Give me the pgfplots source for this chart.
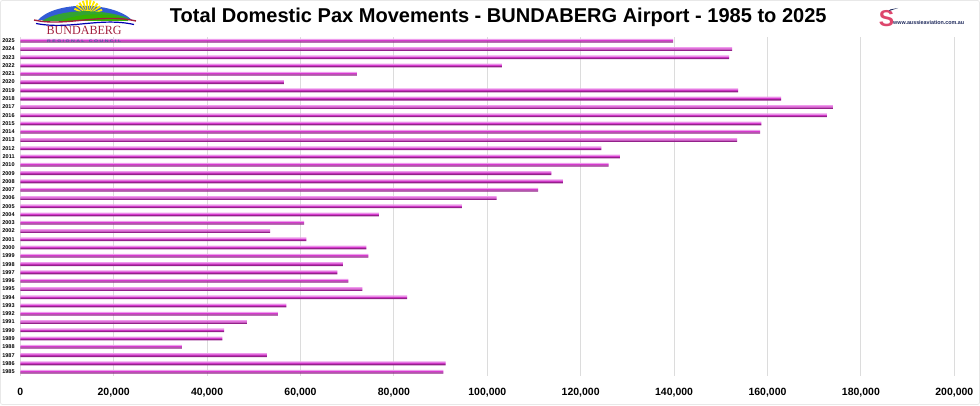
\documentclass[border=0pt]{standalone}
\usepackage{fontspec}
\setmainfont{Liberation Sans}
\newfontfamily\seriffont{Liberation Serif}
\usepackage{graphicx}
\usepackage{pgfplots}
\usepackage{pgfplotstable}
\pgfplotsset{compat=1.18}
\definecolor{barTop}{HTML}{EE9CEC}
\definecolor{barMid}{HTML}{D63ACE}
\definecolor{barBot}{HTML}{93218A}
\definecolor{gridc}{HTML}{DCDCDC}
\definecolor{bundred}{HTML}{A3213F}
\definecolor{bundblue}{HTML}{4A5C9C}
\definecolor{navy}{HTML}{1F2A5C}

\pgfplotstableread{
year pax
1985 90620
1986 91050
1987 52780
1988 34580
1989 43270
1990 43640
1991 48500
1992 55140
1993 56990
1994 82840
1995 73270
1996 70270
1997 67910
1998 69060
1999 74550
2000 74120
2001 61270
2002 53490
2003 60780
2004 76780
2005 94560
2006 102000
2007 110900
2008 116200
2009 113700
2010 126000
2011 128400
2012 124400
2013 153500
2014 158400
2015 158700
2016 172700
2017 174000
2018 162900
2019 153700
2020 56430
2021 72060
2022 103100
2023 151800
2024 152400
2025 139800
}\paxdata

\begin{document}
\begin{tikzpicture}[x=1pt,y=1pt]
\useasboundingbox (0,0) rectangle (980,405);
\draw[gray!18, line width=0.8pt, rounded corners=2pt] (0.5,0.5) rectangle (979.5,404.5);

\begin{axis}[
  at={(20.3pt,29.2pt)}, anchor=south west,
  scale only axis, width=934pt, height=339.2pt,
  xmin=0, xmax=200000, ymin=1984.5, ymax=2025.5,
  axis line style={draw=none},
  tick style={draw=none},
  xmajorgrids, major grid style={gridc, line width=0.9pt},
  scaled x ticks=false,
  xtick={0,20000,40000,60000,80000,100000,120000,140000,160000,180000,200000},
  xticklabels={0,{20,000},{40,000},{60,000},{80,000},{100,000},{120,000},{140,000},{160,000},{180,000},{200,000}},
  ytick=data,
  yticklabels from table={\paxdata}{year},
  xticklabel style={font=\fontsize{10.5}{12}\selectfont\bfseries, yshift=-8.5pt},
  yticklabel style={font=\fontsize{5.5}{6}\selectfont\bfseries, xshift=-2.2pt},
  clip=false,
]
\addplot[xbar, bar width=1.3pt, bar shift=1.25pt, draw=none, fill=barTop]
  table[x=pax, y=year] {\paxdata};
\addplot[xbar, bar width=1.3pt, bar shift=0pt, draw=none, fill=barMid]
  table[x=pax, y=year] {\paxdata};
\addplot[xbar, bar width=1.3pt, bar shift=-1.25pt, draw=none, fill=barBot]
  table[x=pax, y=year] {\paxdata};
\end{axis}

% title
\node[anchor=base] at (498.3,382) {\resizebox{656.7pt}{\height}{\fontsize{20}{24}\selectfont\bfseries Total Domestic Pax Movements - BUNDABERG Airport - 1985 to 2025}};

% Bundaberg emblem
\begin{scope}[yshift=4pt]
\fill[color=blue!60!teal!80] (38,381) .. controls (55,400) and (112,400) .. (132,381) -- cycle;
\foreach \a in {20,35,...,160} {
  \fill[yellow!90!orange] (88,386) -- ++(\a-4:15) -- ++(\a+90:2.2) -- cycle;
}
\fill[yellow!85!orange] (88,386) circle (5.5);
\fill[green!55!black!80] (42,380) .. controls (60,392) and (100,393) .. (128,383) -- (128,380) -- cycle;
\fill[green!70!yellow!70!black] (60,380) .. controls (80,388) and (105,389) .. (126,382) -- (126,380) -- cycle;
\draw[bundred, line width=1.4pt] (34,381) .. controls (65,374) and (100,388) .. (136,380);
\draw[blue!70!black, line width=1.2pt] (36,377.5) .. controls (70,371) and (100,384) .. (134,376.5);
\end{scope}
\node[anchor=base, text=bundred, inner sep=0] at (84.2,370) {\resizebox{75pt}{\height}{\seriffont\fontsize{12.5}{13}\selectfont BUNDABERG}};
\node[anchor=base, text=bundblue, inner sep=0] at (84.2,362.3) {\resizebox{74pt}{\height}{\fontsize{3.6}{4}\selectfont\bfseries R E G I O N A L \ \ C O U N C I L}};

% aussieaviation logo
\node[anchor=center, inner sep=0, text=magenta!60!orange!90!black] at (886.5,386) {\fontsize{23}{23}\selectfont\bfseries S};
\fill[navy] (889,394) -- (898,397) -- (890,395.5) -- cycle;
\node[anchor=west, inner sep=0, text=navy] at (893,382.3) {\resizebox{71pt}{\height}{\fontsize{5.5}{6}\selectfont\bfseries www.aussieaviation.com.au}};
\end{tikzpicture}
\end{document}
